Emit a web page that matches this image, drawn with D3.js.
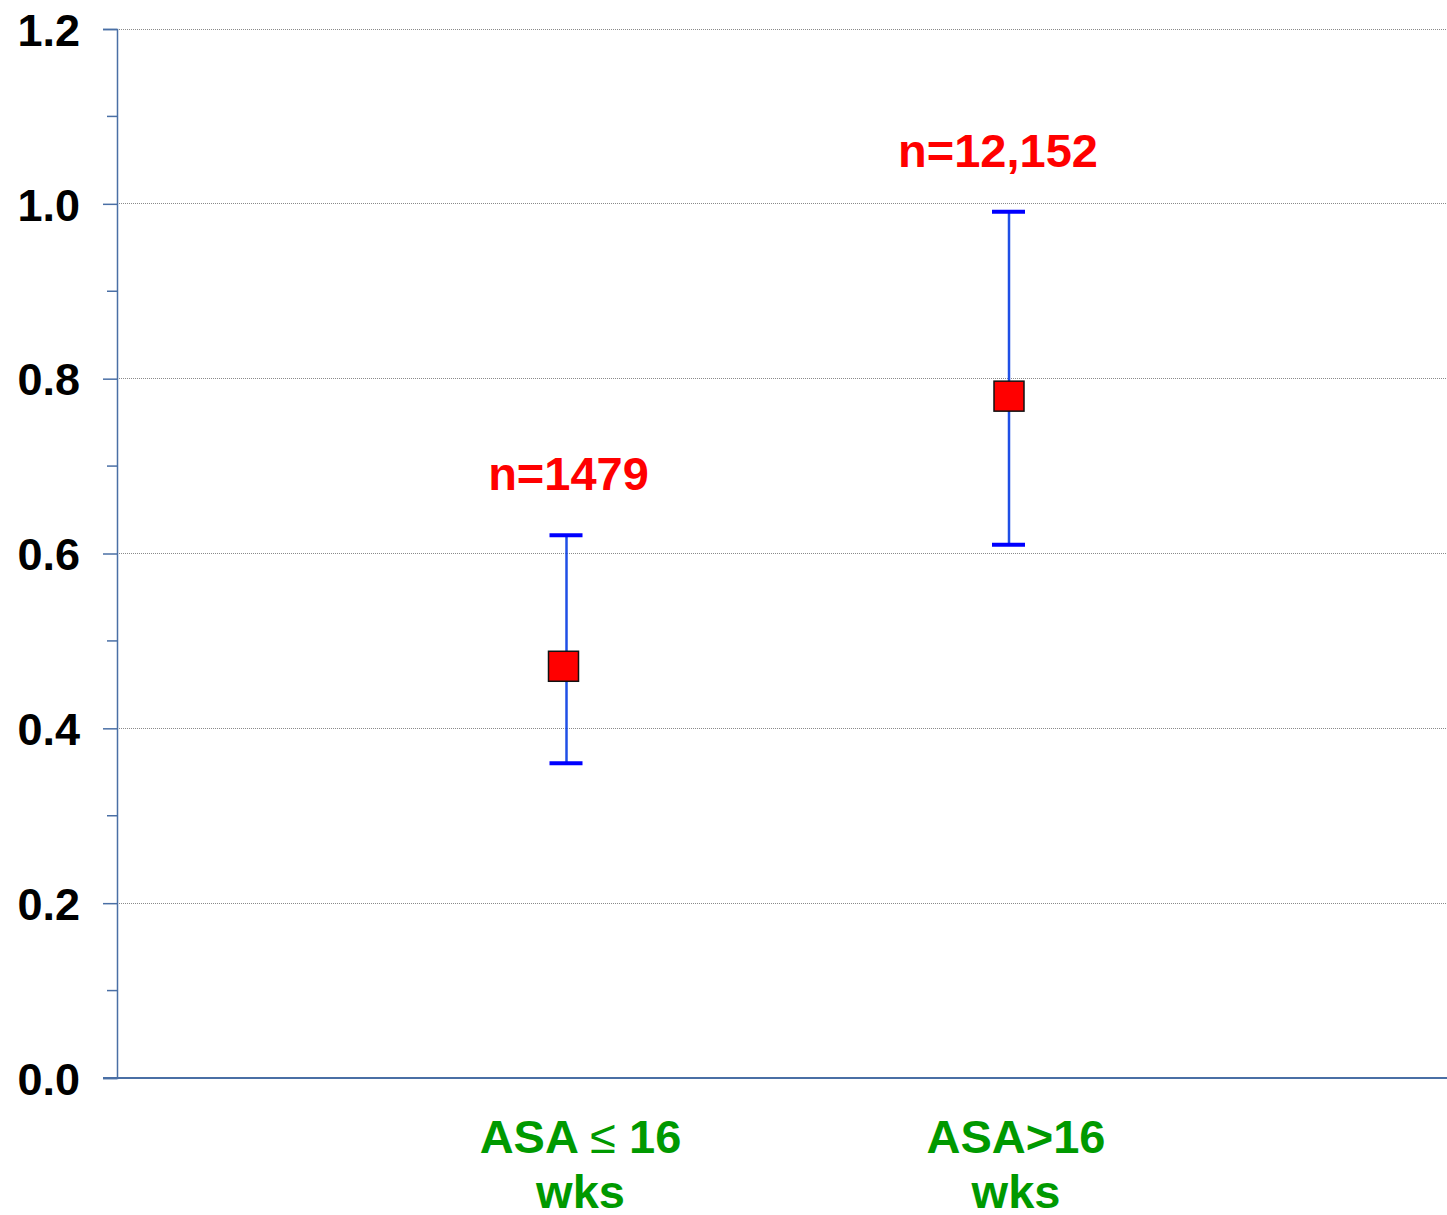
<!DOCTYPE html>
<html>
<head>
<meta charset="utf-8">
<script src="https://cdn.jsdelivr.net/npm/d3@7"></script>
<style>
  html, body { margin: 0; padding: 0; background: #fff; }
  svg { display: block; }
</style>
</head>
<body>
<svg id="chart" width="1447" height="1215"></svg>
<script>
// ---- data ----
const categories = ["ASA \u2264 16 wks", "ASA>16 wks"];
const labelLine1 = [["ASA ", "\u2264", " 16"], ["ASA>16"]];
const labelLine2 = ["wks", "wks"];
const pointValues = [0.471, 0.780];
const lowerCI = [0.360, 0.610];
const upperCI = [0.621, 0.991];
const sampleLabels = ["n=1479", "n=12,152"];
const yTicks = [0.0, 0.2, 0.4, 0.6, 0.8, 1.0, 1.2];
const yMinorTicks = [0.1, 0.3, 0.5, 0.7, 0.9, 1.1];

// ---- layout / style ----
const plotLeft = 117, plotRight = 1447, plotTop = 29, plotBottom = 1078;
const axisColor = "#4a6fa5";
const markerOffset = [-3, 0];
const nLabelOffset = [2, -11];
const catLabelOffset = [14, 7];

const svg = d3.select("#chart");

const y = d3.scaleLinear().domain([0, 1.2]).range([plotBottom, plotTop]);
const x = d3.scalePoint().domain(categories).range([566.5, 1009]).padding(0);

// grid lines
svg.append("g").selectAll("line").data(yTicks.filter(d => d > 0)).join("line")
  .attr("x1", plotLeft).attr("x2", plotRight)
  .attr("y1", d => y(d)).attr("y2", d => y(d))
  .attr("stroke", "#8a8a8a").attr("stroke-width", 1)
  .attr("stroke-dasharray", "1,1")
  .attr("shape-rendering", "crispEdges");

// y axis
const yAxis = d3.axisLeft(y).tickValues(yTicks).tickFormat(d3.format(".1f")).tickSize(14).tickPadding(23);
const gy = svg.append("g").attr("transform", `translate(${plotLeft},0)`).call(yAxis);
gy.select(".domain").attr("stroke", axisColor).attr("stroke-width", 1.5);
gy.selectAll(".tick line").attr("stroke", axisColor).attr("stroke-width", 1.5);
gy.selectAll(".tick text")
  .attr("font-family", "Liberation Sans, Arial, sans-serif")
  .attr("font-weight", "bold").attr("font-size", 45).attr("fill", "#000")
  .attr("dy", "0.36em");

// minor ticks
svg.append("g").selectAll("line").data(yMinorTicks).join("line")
  .attr("x1", plotLeft - 10).attr("x2", plotLeft)
  .attr("y1", d => y(d)).attr("y2", d => y(d))
  .attr("stroke", axisColor).attr("stroke-width", 1.5);

// baseline (x axis)
svg.append("line")
  .attr("x1", plotLeft - 14).attr("x2", plotRight)
  .attr("y1", y(0)).attr("y2", y(0))
  .attr("stroke", axisColor).attr("stroke-width", 2);

// error bars
const g = svg.append("g");
categories.forEach((c, i) => {
  const cx = x(c);
  g.append("line")
    .attr("x1", cx).attr("x2", cx)
    .attr("y1", y(upperCI[i])).attr("y2", y(lowerCI[i]))
    .attr("stroke", "#1f4fe6").attr("stroke-width", 2.5);
  [upperCI[i], lowerCI[i]].forEach(v => {
    g.append("line")
      .attr("x1", cx - 17).attr("x2", cx + 16)
      .attr("y1", y(v)).attr("y2", y(v))
      .attr("stroke", "#0000ff").attr("stroke-width", 4);
  });
  const s = 30;
  g.append("rect")
    .attr("x", cx + markerOffset[i] - s / 2).attr("y", y(pointValues[i]) - s / 2)
    .attr("width", s).attr("height", s)
    .attr("fill", "#ff0000").attr("stroke", "#111").attr("stroke-width", 1.5);
  g.append("text")
    .attr("x", cx + nLabelOffset[i]).attr("y", y(upperCI[i]) - 45)
    .attr("text-anchor", "middle")
    .attr("font-family", "Liberation Sans, Arial, sans-serif")
    .attr("font-weight", "bold").attr("font-size", 47).attr("fill", "#ff0000")
    .text(sampleLabels[i]);

  // category labels
  const t = svg.append("text")
    .attr("x", cx + catLabelOffset[i]).attr("y", 1153)
    .attr("text-anchor", "middle")
    .attr("font-family", "Liberation Sans, Arial, sans-serif")
    .attr("font-weight", "bold").attr("font-size", 47).attr("fill", "#009900");
  labelLine1[i].forEach(part => {
    t.append("tspan")
      .attr("font-weight", part === "\u2264" ? "normal" : "bold")
      .text(part);
  });
  svg.append("text")
    .attr("x", cx + catLabelOffset[i]).attr("y", 1208)
    .attr("text-anchor", "middle")
    .attr("font-family", "Liberation Sans, Arial, sans-serif")
    .attr("font-weight", "bold").attr("font-size", 47).attr("fill", "#009900")
    .text(labelLine2[i]);
});
</script>
</body>
</html>
